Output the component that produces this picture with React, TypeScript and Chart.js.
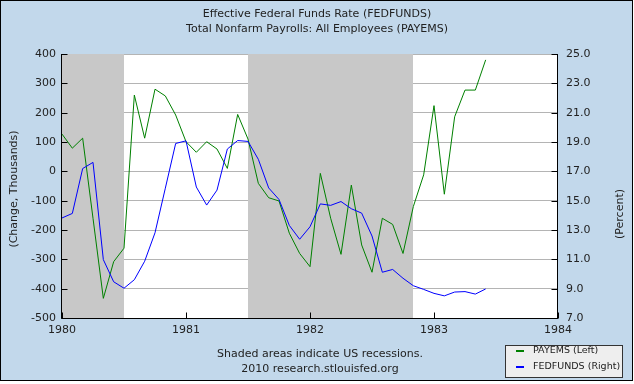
import React, { useEffect, useRef } from 'react';
import { Chart, registerables } from 'chart.js';

Chart.register(...registerables);

// Monthly observations starting January 1980
const START_YEAR = 1980;
const payems = [
  127, 79, 113, -160, -433, -308, -262, 260, 113, 280, 257, 192,
  101, 65, 101, 76, 10, 194, 110, -41, -90, -101, -211, -280,
  -325, -7, -160, -283, -47, -251, -344, -160, -181, -280, -120, -12,
  224, -78, 186, 277, 277, 380,
];
const fedfunds = [
  13.82, 14.13, 17.19, 17.61, 10.98, 9.47, 9.03, 9.61, 10.87, 12.81, 15.85, 18.9,
  19.08, 15.93, 14.7, 15.72, 18.52, 19.1, 19.04, 17.82, 15.87, 15.08, 13.31, 12.37,
  13.22, 14.78, 14.68, 14.94, 14.45, 14.15, 12.59, 10.12, 10.31, 9.71, 9.2, 8.95,
  8.68, 8.51, 8.77, 8.8, 8.63, 8.98,
];
const leftTicks = [-500, -400, -300, -200, -100, 0, 100, 200, 300, 400];
const rightTicks = [7, 9, 11, 13, 15, 17, 19, 21, 23, 25];
const yearTicks = [1980, 1981, 1982, 1983, 1984];
// recession periods [start, end] in decimal years
const recessions: [number, number][] = [
  [1980 + 0 / 12, 1980 + 6 / 12],
  [1981 + 6 / 12, 1982 + 10 / 12],
];

const titleLines = ['Effective Federal Funds Rate (FEDFUNDS)', 'Total Nonfarm Payrolls: All Employees (PAYEMS)'];
const footerLines = ['Shaded areas indicate US recessions.', '2010 research.stlouisfed.org'];
const leftTitle = '(Change, Thousands)';
const rightTitle = '(Percent)';
const legendItems = [
  { label: 'PAYEMS (Left)', color: '#008000' },
  { label: 'FEDFUNDS (Right)', color: '#0000FF' },
];

const FONT = '"DejaVu Sans", Verdana, sans-serif';
const BG = '#C2D8EB';
const TEXT = '#222222';

const toPoints = (arr: number[]) => arr.map((v, i) => ({ x: START_YEAR + i / 12, y: v }));

const decorPlugin = {
  id: 'decor',
  beforeDraw(chart: any) {
    const { ctx, chartArea: a } = chart;
    ctx.save();
    ctx.fillStyle = '#FFFFFF';
    ctx.fillRect(0, 0, chart.width, chart.height);
    ctx.fillStyle = BG;
    ctx.fillRect(0, 0, 633, 381);
    ctx.strokeStyle = '#000000';
    ctx.lineWidth = 1;
    ctx.strokeRect(0.5, 0.5, 632, 380);
    ctx.fillStyle = '#FFFFFF';
    ctx.fillRect(a.left, a.top, a.right - a.left, a.bottom - a.top);
    ctx.restore();
  },
  beforeDatasetsDraw(chart: any) {
    const { ctx, chartArea: a } = chart;
    const xs = chart.scales.x;
    ctx.save();
    ctx.fillStyle = '#C8C8C8';
    recessions.forEach(([s, e]) => {
      const x0 = Math.round(xs.getPixelForValue(s));
      const x1 = Math.round(xs.getPixelForValue(e));
      ctx.fillRect(x0, a.top, x1 - x0, a.bottom - a.top);
    });
    ctx.restore();
  },
  afterDatasetsDraw(chart: any) {
    const { ctx, chartArea: a } = chart;
    const ys = chart.scales.y;
    const y1 = chart.scales.y1;
    const xs = chart.scales.x;
    ctx.save();
    ctx.strokeStyle = '#000000';
    ctx.lineWidth = 1;
    ctx.beginPath();
    const L = a.left - 0.5;
    const R = a.right - 0.5;
    const B = a.bottom + 0.5;
    ctx.moveTo(L, a.top);
    ctx.lineTo(L, B);
    ctx.lineTo(R + 0.5, B);
    ctx.moveTo(R, a.top);
    ctx.lineTo(R, B);
    leftTicks.forEach((v) => {
      const y = Math.round(ys.getPixelForValue(v)) + 0.5;
      ctx.moveTo(L, y);
      ctx.lineTo(L + 6, y);
    });
    rightTicks.forEach((v) => {
      const y = Math.round(y1.getPixelForValue(v)) + 0.5;
      ctx.moveTo(R - 6, y);
      ctx.lineTo(R, y);
    });
    yearTicks.forEach((v) => {
      const x = Math.round(xs.getPixelForValue(v)) + 0.5;
      ctx.moveTo(x, B);
      ctx.lineTo(x, B - 6);
    });
    ctx.stroke();
    ctx.restore();
  },
  afterDraw(chart: any) {
    const { ctx, chartArea: a } = chart;
    ctx.save();
    ctx.fillStyle = TEXT;
    ctx.font = `11px ${FONT}`;
    ctx.textAlign = 'center';
    ctx.textBaseline = 'middle';
    ctx.fillText(titleLines[0], 317, 14);
    ctx.fillText(titleLines[1], 317, 29);
    ctx.fillText(footerLines[0], 320, 354);
    ctx.fillText(footerLines[1], 320, 369);

    ctx.save();
    ctx.translate(14, 189);
    ctx.rotate(-Math.PI / 2);
    ctx.fillText(leftTitle, 0, 0);
    ctx.restore();

    ctx.save();
    ctx.translate(620, 214);
    ctx.rotate(-Math.PI / 2);
    ctx.fillText(rightTitle, 0, 0);
    ctx.restore();

    // legend
    ctx.fillStyle = '#EEEEEE';
    ctx.fillRect(505, 345, 118, 32);
    ctx.strokeStyle = '#333333';
    ctx.strokeRect(505.5, 345.5, 117, 32);
    ctx.font = `9.5px ${FONT}`;
    ctx.textAlign = 'left';
    legendItems.forEach((it, i) => {
      const y = 351 + i * 15.5;
      ctx.fillStyle = it.color;
      ctx.fillRect(516, Math.round(y) - 1, 8, 2);
      ctx.fillStyle = TEXT;
      ctx.fillText(it.label, 533, y);
    });
    ctx.restore();
  },
};

export default function App() {
  const ref = useRef<HTMLCanvasElement>(null);
  useEffect(() => {
    document.body.style.margin = '0';
    const canvas = ref.current!;
    const chart = new Chart(canvas, {
      type: 'line',
      data: {
        datasets: [
          {
            label: legendItems[0].label,
            data: toPoints(payems),
            borderColor: '#008000',
            borderWidth: 1,
            pointRadius: 0,
            tension: 0,
            yAxisID: 'y',
            order: 2,
          },
          {
            label: legendItems[1].label,
            data: toPoints(fedfunds),
            borderColor: '#0000FF',
            borderWidth: 1,
            pointRadius: 0,
            tension: 0,
            yAxisID: 'y1',
            order: 1,
          },
        ],
      },
      options: {
        animation: false,
        responsive: false,
        events: [],
        layout: { padding: { top: 54, left: 0, right: 0, bottom: 0 } },
        plugins: { legend: { display: false }, tooltip: { enabled: false }, title: { display: false } },
        scales: {
          x: {
            type: 'linear',
            min: 1980,
            max: 1984,
            afterBuildTicks: (s: any) => { s.ticks = yearTicks.map((v) => ({ value: v })); },
            afterFit: (s: any) => { s.height = 66; },
            ticks: {
              callback: (v: any) => String(v),
              font: { family: FONT, size: 11 },
              color: TEXT,
              padding: 6,
              maxRotation: 0,
              autoSkip: false,
            },
            grid: { display: false, drawTicks: false },
            border: { display: false },
          },
          y: {
            position: 'left',
            min: -500,
            max: 400,
            afterBuildTicks: (s: any) => { s.ticks = leftTicks.map((v) => ({ value: v })); },
            afterFit: (s: any) => { s.width = 62; },
            ticks: {
              callback: (v: any) => String(v),
              font: { family: FONT, size: 11 },
              color: TEXT,
              padding: 6,
            },
            grid: { color: '#B4B4B4', lineWidth: 1, drawTicks: false },
            border: { display: false },
          },
          y1: {
            position: 'right',
            min: 7,
            max: 25,
            afterBuildTicks: (s: any) => { s.ticks = rightTicks.map((v) => ({ value: v })); },
            afterFit: (s: any) => { s.width = 76; },
            ticks: {
              callback: (v: any) => Number(v).toFixed(1),
              font: { family: FONT, size: 11 },
              color: TEXT,
              padding: 8,
            },
            grid: { drawOnChartArea: false, drawTicks: false },
            border: { display: false },
          },
        },
      },
      plugins: [decorPlugin],
    });
    return () => chart.destroy();
  }, []);
  return <canvas ref={ref} width={634} height={384} style={{ display: 'block' }} />;
}
